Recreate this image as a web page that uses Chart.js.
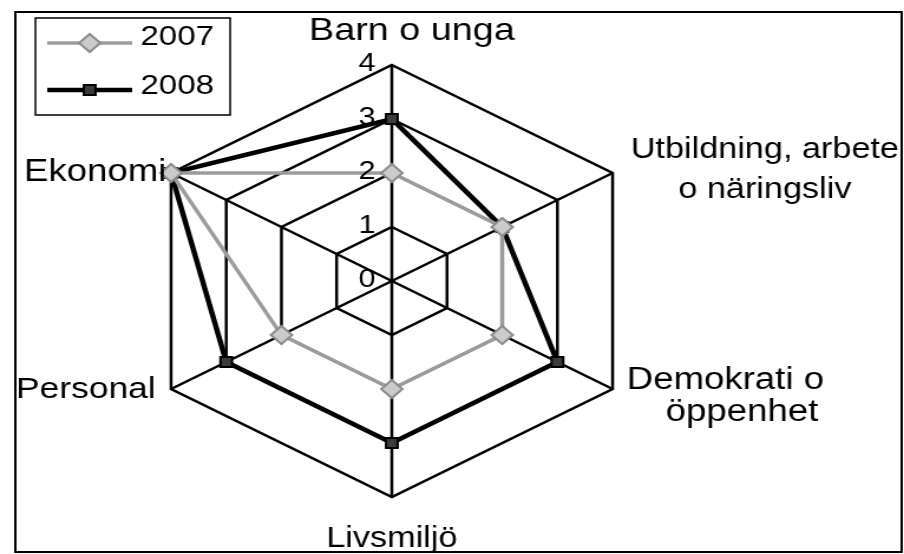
<!DOCTYPE html>
<html><head><meta charset="utf-8">
<script src="https://cdn.jsdelivr.net/npm/chart.js@4"></script>
<style>
html,body{margin:0;padding:0;background:#fff;overflow:hidden}
#wrap{width:766px;height:554px;transform:scaleX(1.1802);transform-origin:0 0;}
canvas{display:block}
</style></head><body>
<div id="wrap"><canvas id="c" width="766" height="554"></canvas></div>
<script>
// ---- data ----
const categories = ["Barn o unga", ["Utbildning, arbete", "o näringsliv"], ["Demokrati o", "öppenhet"], "Livsmiljö", "Personal", "Ekonomi"];
const seriesNames = ["2007", "2008"];
const values2007 = [2, 2, 2, 2, 2, 4];
const values2008 = [3, 2, 3, 3, 3, 4];
const tickLabels = ["0", "1", "2", "3", "4"];

// ---- label placement (pre-stretch px, relative to each axis end) ----
const labelPlacement = [
  {align: 'center', size: 32, lines: [[17, -25]]},
  {align: 'center', size: 29, lines: [[129, -15], [129, 25]]},
  {align: 'left', size: 31, lines: [[12, 0], [45, 32]]},
  {align: 'center', size: 29, lines: [[0, 50]]},
  {align: 'right', size: 30, lines: [[-13, 9]]},
  {align: 'right', size: 31, lines: [[-4, 8]]}
];
const FONT = '"Liberation Sans", Arial, sans-serif';

const decor = {
  id: 'decor',
  afterDraw(chart) {
    const ctx = chart.ctx;
    const r = chart.scales.r;
    ctx.save();
    // outer frame
    ctx.strokeStyle = '#000';
    ctx.lineWidth = 2;
    ctx.strokeRect(13, 12, 751, 540);
    // tick labels
    ctx.fillStyle = '#000';
    ctx.font = '26px ' + FONT;
    ctx.textAlign = 'center';
    ctx.textBaseline = 'middle';
    tickLabels.forEach(t => {
      const d = r.getDistanceFromCenterForValue(Number(t));
      ctx.fillText(t, r.xCenter - 21, r.yCenter - d - 1);
    });
    // point labels
    ctx.textBaseline = 'alphabetic';
    categories.forEach((lab, i) => {
      const p = r.getPointPosition(i, r.drawingArea);
      const pl = labelPlacement[i];
      const lines = Array.isArray(lab) ? lab : [lab];
      ctx.font = pl.size + 'px ' + FONT;
      ctx.textAlign = pl.align;
      lines.forEach((ln, j) => ctx.fillText(ln, p.x + pl.lines[j][0], p.y + pl.lines[j][1]));
    });
    // legend
    ctx.lineWidth = 1.5;
    ctx.strokeStyle = '#000';
    ctx.strokeRect(30, 18, 165, 97);
    ctx.font = '28px ' + FONT;
    ctx.textAlign = 'left';
    ctx.textBaseline = 'middle';
    const rows = [43, 90];
    chart.data.datasets.forEach((ds, i) => {
      const y = rows[i];
      ctx.strokeStyle = ds.borderColor;
      ctx.lineWidth = ds.borderWidth;
      ctx.beginPath(); ctx.moveTo(40, y); ctx.lineTo(112, y); ctx.stroke();
      ctx.fillStyle = ds.pointBackgroundColor;
      ctx.strokeStyle = ds.pointBorderColor;
      ctx.lineWidth = ds.pointBorderWidth;
      Chart.helpers.drawPoint(ctx, {pointStyle: ds.pointStyle, radius: ds.pointRadius, borderWidth: ds.pointBorderWidth}, 76, y);
      ctx.fillStyle = '#000';
      ctx.fillText(ds.label, 119, y - 6 + i * 2);
    });
    ctx.restore();
  }
};

new Chart(document.getElementById('c'), {
  type: 'radar',
  data: {
    labels: categories,
    datasets: [
      {label: seriesNames[0], data: values2007, borderColor: '#9c9c9c', borderWidth: 3.5, fill: false,
       pointStyle: 'rectRot', pointRadius: 9, pointBackgroundColor: '#cbcbcb', pointBorderColor: '#8c8c8c', pointBorderWidth: 2},
      {label: seriesNames[1], data: values2008, borderColor: '#000', borderWidth: 4.5, fill: false,
       pointStyle: 'rect', pointRadius: 7, pointBackgroundColor: '#3c3c3c', pointBorderColor: '#000', pointBorderWidth: 2}
    ]
  },
  options: {
    responsive: false,
    animation: false,
    devicePixelRatio: 1,
    layout: {padding: {left: 100, right: 202, top: 65, bottom: 57}},
    plugins: {legend: {display: false}, tooltip: {enabled: false}},
    scales: {
      r: {
        min: 0, max: 4,
        ticks: {display: false, stepSize: 1},
        pointLabels: {display: false},
        grid: {color: '#000', lineWidth: 2.5},
        angleLines: {color: '#000', lineWidth: 2.5}
      }
    }
  },
  plugins: [decor]
});
</script>
</body></html>
